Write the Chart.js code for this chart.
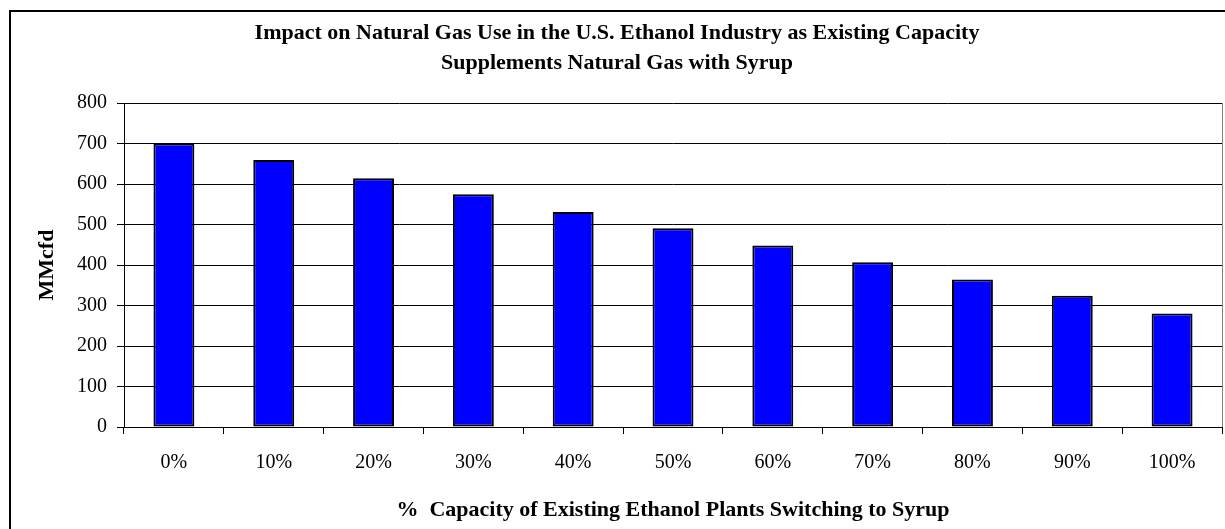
<!DOCTYPE html>
<html>
<head>
<meta charset="utf-8">
<script src="https://cdn.jsdelivr.net/npm/chart.js@4/dist/chart.umd.min.js"></script>
<style>
body{margin:0;background:#fff;overflow:hidden;}
#wrap{position:relative;width:1225px;height:529px;}
#frame{position:absolute;left:9px;top:10px;width:1300px;height:600px;border-left:2px solid #000;border-top:2px solid #000;}
#chart{position:absolute;left:0;top:0;}
</style>
</head>
<body>
<div id="wrap">
<div id="frame"></div>
<canvas id="chart" width="1225" height="529"></canvas>
</div>
<script>
const categories = ['0%','10%','20%','30%','40%','50%','60%','70%','80%','90%','100%'];
const gasUse = [700, 659, 614, 575, 531, 491, 448, 407, 364, 324, 280];
const yTicks = [0, 100, 200, 300, 400, 500, 600, 700, 800];
const titleLines = ['Impact on Natural Gas Use in the U.S. Ethanol Industry as Existing Capacity', 'Supplements Natural Gas with Syrup'];
const xTitle = '%  Capacity of Existing Ethanol Plants Switching to Syrup';
const yTitle = 'MMcfd';

const serif = "'Liberation Serif', 'Times New Roman', serif";

// right edge of the plot box
const rightBorder = {
    id:'rightBorder',
    afterDraw(chart){
        const a = chart.chartArea, ctx = chart.ctx;
        ctx.save();
        ctx.strokeStyle = '#808080';
        ctx.lineWidth = 1;
        ctx.beginPath();
        ctx.moveTo(Math.round(a.right)+0.5, a.top);
        ctx.lineTo(Math.round(a.right)+0.5, a.bottom);
        ctx.stroke();
        ctx.restore();
    }
};

const ctx = document.getElementById('chart').getContext('2d');
new Chart(ctx,{
    type:'bar',
    data:{ labels:categories, datasets:[{
        data:gasUse,
        backgroundColor:'#0000ff',
        borderColor:'#000',
        borderWidth:2,
        borderSkipped:false,
        barPercentage:0.41,
        categoryPercentage:1
    }]},
    options:{
        responsive:false,
        animation:false,
        layout:{ padding:{left:12, top:12, right:3, bottom:0} },
        plugins:{
            legend:{display:false},
            tooltip:{enabled:false},
            title:{
                display:true,
                text:titleLines,
                color:'#000',
                font:{family:serif, size:22, weight:'bold', lineHeight:30/22},
                padding:{top:6, bottom:25}
            }
        },
        scales:{
            x:{
                grid:{display:true, drawOnChartArea:false, drawTicks:true, tickLength:7, color:'#000', offset:true},
                border:{display:true, color:'#000', width:1},
                ticks:{color:'#000', padding:17, font:{family:serif, size:20, lineHeight:1.2}},
                title:{display:true, text:xTitle, color:'#000', font:{family:serif, size:22, weight:'bold', lineHeight:1.2}, padding:{top:5, bottom:5}},
                afterFit(scale){ scale.height = 102; }
            },
            y:{
                min:0, max:800,
                afterBuildTicks(scale){ scale.ticks = yTicks.map(v => ({value:v})); },
                grid:{color:'#000', lineWidth:1, tickLength:7, drawTicks:true},
                border:{display:true, color:'#000', width:1},
                ticks:{color:'#000', padding:10, font:{family:serif, size:20}},
                title:{display:true, text:yTitle, color:'#000', font:{family:serif, size:22, weight:'bold', lineHeight:1.2}, padding:{top:22, bottom:22}},
                afterFit(scale){ scale.width = 112; }
            }
        }
    },
    plugins:[rightBorder]
});
</script>
</body>
</html>
